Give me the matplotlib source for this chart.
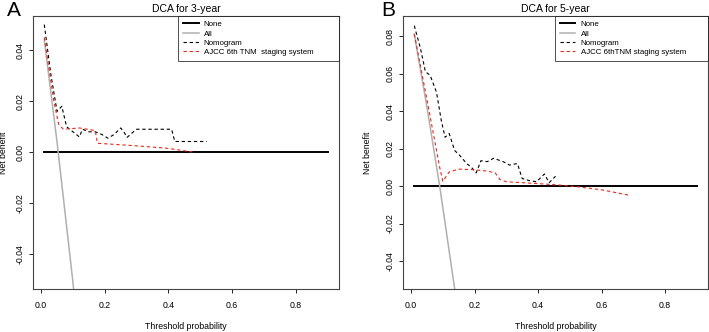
import matplotlib.pyplot as plt

plt.rcParams['font.family'] = ['Liberation Sans', 'DejaVu Sans']

# ---- panel A: 3-year ----
none_x = [0.01, 0.9]
none_y = [0.0, 0.0]

all_x_a = [0.01, 0.05, 0.10, 0.15]
all_y_a = [0.044, 0.004, -0.051, -0.113]

nomo_x_a = [0.01, 0.03, 0.05, 0.065, 0.08, 0.10, 0.12, 0.13, 0.15, 0.17, 0.19,
            0.21, 0.23, 0.25, 0.26, 0.27, 0.29, 0.30, 0.41, 0.42, 0.52]
nomo_y_a = [0.050, 0.031, 0.016, 0.018, 0.010, 0.008, 0.006, 0.009, 0.008, 0.008, 0.007,
            0.0055, 0.007, 0.0095, 0.008, 0.0058, 0.008, 0.009, 0.009, 0.0042, 0.0042]

ajcc_x_a = [0.01, 0.04, 0.055, 0.07, 0.12, 0.17, 0.177, 0.30, 0.40, 0.48]
ajcc_y_a = [0.045, 0.020, 0.011, 0.009, 0.0095, 0.0085, 0.0035, 0.0025, 0.0015, 0.0]

# ---- panel B: 5-year ----
all_x_b = [0.01, 0.05, 0.09, 0.14, 0.20]
all_y_b = [0.081, 0.042, 0.0, -0.058, -0.138]

nomo_x_b = [0.01, 0.03, 0.045, 0.06, 0.08, 0.095, 0.107, 0.12, 0.137, 0.155, 0.175,
            0.19, 0.205, 0.22, 0.24, 0.26, 0.29, 0.31, 0.335, 0.35, 0.37, 0.395,
            0.42, 0.435, 0.455]
nomo_y_b = [0.0855, 0.073, 0.061, 0.059, 0.050, 0.035, 0.026, 0.028, 0.019, 0.016, 0.012,
            0.010, 0.007, 0.0135, 0.013, 0.0148, 0.013, 0.0112, 0.012, 0.004, 0.003, 0.0023,
            0.0064, 0.0018, 0.0052]

ajcc_x_b = [0.01, 0.05, 0.09, 0.10, 0.12, 0.15, 0.19, 0.24, 0.265, 0.28, 0.30,
            0.40, 0.47, 0.53, 0.60, 0.69]
ajcc_y_b = [0.081, 0.046, 0.010, 0.0025, 0.0075, 0.009, 0.0088, 0.008, 0.007, 0.0035, 0.0023,
            0.0013, 0.0005, -0.0005, -0.0020, -0.0050]

xticks = [0.0, 0.2, 0.4, 0.6, 0.8]
yticks_a = [-0.04, -0.02, 0.0, 0.02, 0.04]
yticks_b = [-0.04, -0.02, 0.0, 0.02, 0.04, 0.06, 0.08]


def draw_panel(ax, title, letter, letter_x, ylab_x, leg_x, all_x, all_y, nomo_x, nomo_y,
               ajcc_x, ajcc_y, ajcc_label, ylim, yticks):
    ax.plot(none_x, none_y, color='black', lw=1.4, label='None')
    ax.plot(all_x, all_y, color='#b0b0b0', lw=1.1, label='All')
    ax.plot(nomo_x, nomo_y, color='black', lw=0.8, ls=(0, (3, 2.5)), label='Nomogram')
    ax.plot(ajcc_x, ajcc_y, color='#e8291c', lw=0.8, ls=(0, (3, 2.5)), label=ajcc_label)
    ax.set_xlim(-0.0256, 0.9356)
    ax.set_ylim(*ylim)
    ax.set_xticks(xticks)
    ax.set_xticklabels(['%.1f' % t for t in xticks])
    ax.set_yticks(yticks)
    ax.set_yticklabels(['%.2f' % t for t in yticks], rotation=90, va='center')
    ax.tick_params(labelsize=6.3, length=2.9, width=0.6, direction='out')
    ax.tick_params(axis='x', pad=5.5)
    ax.tick_params(axis='y', pad=3)
    for s in ax.spines.values():
        s.set_linewidth(0.8)
        s.set_color('#444444')
    ax.set_title(title, fontsize=7.5, pad=3)
    ax.set_xlabel('Threshold probability', fontsize=6.3)
    ax.set_ylabel('Net benefit', fontsize=6.3)
    ax.xaxis.set_label_coords(0.5, -0.121)
    ax.yaxis.set_label_coords(ylab_x, 0.5)
    leg = ax.legend(loc='upper left', bbox_to_anchor=(leg_x, 0.0, 1.0 - leg_x, 1.0),
                    mode='expand', fontsize=5.7, frameon=True, fancybox=False,
                    handlelength=2.0, borderaxespad=0, labelspacing=0.22,
                    handletextpad=0.65, borderpad=0.6)
    leg.get_frame().set_edgecolor('black')
    leg.get_frame().set_linewidth(0.6)
    ax.text(letter_x, 1.02, letter, transform=ax.transAxes, fontsize=15,
            ha='left', va='center')


fig = plt.figure(figsize=(7.09, 3.32), dpi=100)
ax1 = fig.add_axes([0.0465, 0.1295, 0.4315, 0.8225])
ax2 = fig.add_axes([0.5684, 0.1295, 0.4302, 0.8225])

draw_panel(ax1, 'DCA for 3-year', 'A', -0.085, -0.082, 0.474, all_x_a, all_y_a,
           nomo_x_a, nomo_y_a, ajcc_x_a, ajcc_y_a, 'AJCC 6th TNM  staging system',
           (-0.0536, 0.0534), yticks_a)
draw_panel(ax2, 'DCA for 5-year', 'B', -0.072, -0.10, 0.498, all_x_b, all_y_b,
           nomo_x_b, nomo_y_b, ajcc_x_b, ajcc_y_b, 'AJCC 6thTNM staging system',
           (-0.0549, 0.0907), yticks_b)

fig.savefig('out.png', dpi=100)
